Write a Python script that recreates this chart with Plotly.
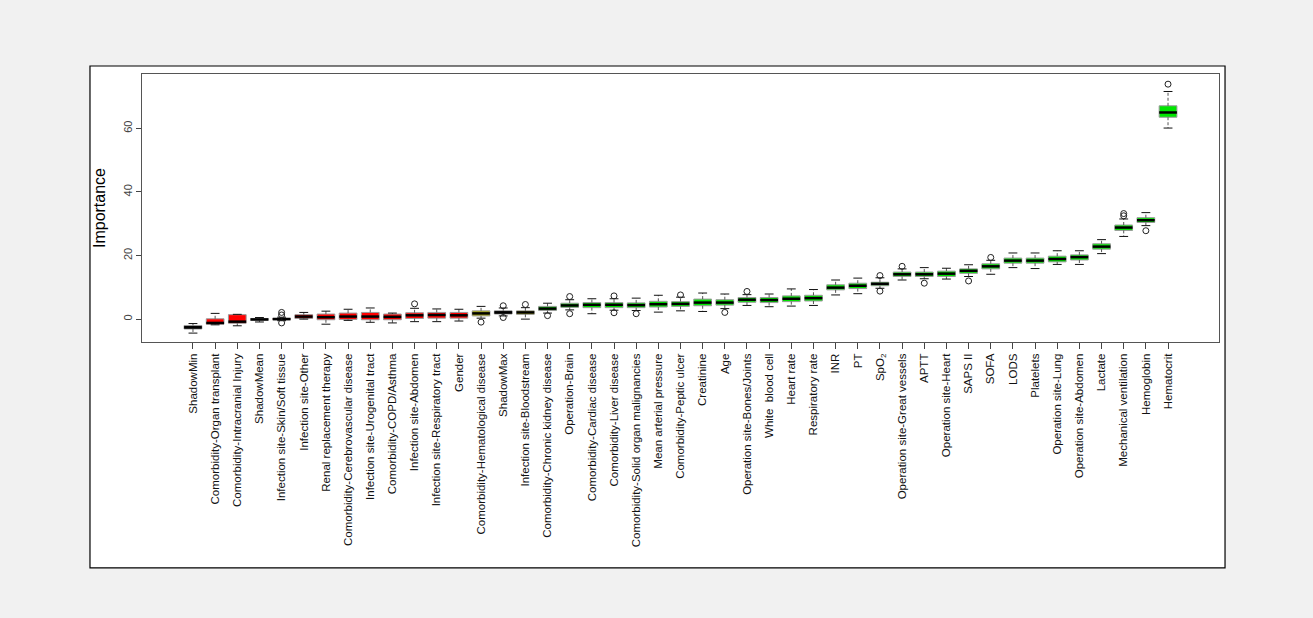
import plotly.graph_objects as go

# Feature names, ordered by median importance
labels = [
    "ShadowMin", "Comorbidity-Organ transplant", "Comorbidity-Intracranial Injury", "ShadowMean",
    "Infection site-Skin/Soft tissue", "Infection site-Other", "Renal replacement therapy",
    "Comorbidity-Cerebrovascular disease", "Infection site-Urogenital tract", "Comorbidity-COPD/Asthma",
    "Infection site-Abdomen", "Infection site-Respiratory tract", "Gender",
    "Comorbidity-Hematological disease", "ShadowMax", "Infection site-Bloodstream",
    "Comorbidity-Chronic kidney disease", "Operation-Brain", "Comorbidity-Cardiac disease",
    "Comorbidity-Liver disease", "Comorbidity-Solid organ malignancies", "Mean arterial pressure",
    "Comorbidity-Peptic ulcer", "Creatinine", "Age", "Operation site-Bones/Joints",
    "White\u00a0 blood cell", "Heart rate", "Respiratory rate", "INR", "PT", "SpO<sub>2</sub>",
    "Operation site-Great vessels", "APTT", "Operation site-Heart", "SAPS II", "SOFA", "LODS",
    "Platelets", "Operation site-Lung", "Operation site-Abdomen", "Lactate",
    "Mechanical ventilation", "Hemoglobin", "Hematocrit",
]

# Decision: S = shadow, R = rejected, T = tentative, C = confirmed
status = ["S", "R", "R", "S", "R", "R", "R", "R", "R", "R", "R", "R", "R", "T", "S", "T",
          "C", "C", "C", "C", "C", "C", "C", "C", "C", "C", "C", "C", "C", "C", "C", "C",
          "C", "C", "C", "C", "C", "C", "C", "C", "C", "C", "C", "C", "C"]

lower = [-4.4, -1.8, -2.1, -0.9, -0.5, 0.0, -1.6, -0.4, -1.0, -1.2, -0.8, -0.8, -0.6, 0.3, 1.0, 0.0,
         1.9, 2.9, 1.7, 2.8, 2.7, 2.2, 2.6, 2.4, 3.3, 4.3, 3.9, 4.1, 4.3, 7.6, 8.0, 9.7,
         12.3, 12.7, 12.6, 13.4, 14.1, 16.2, 15.9, 17.2, 17.2, 20.6, 26.0, 29.4, 60.1]
q1 = [-3.1, -1.6, -1.3, -0.4, -0.2, 0.2, -0.2, -0.1, -0.2, -0.2, 0.2, 0.3, 0.3, 1.0, 1.6, 1.5,
      2.7, 3.7, 3.6, 3.6, 3.6, 3.8, 4.0, 4.2, 4.4, 5.3, 5.2, 5.5, 5.7, 9.2, 9.6, 10.5,
      13.4, 13.4, 13.4, 14.4, 15.8, 17.6, 17.6, 18.0, 18.6, 22.0, 27.9, 30.4, 63.5]
median = [-2.6, -1.2, -0.8, -0.1, 0.0, 0.8, 0.6, 0.8, 0.8, 0.7, 1.2, 1.3, 1.2, 1.8, 2.1, 2.1,
          3.3, 4.3, 4.5, 4.5, 4.4, 4.7, 4.8, 5.2, 5.2, 6.1, 6.0, 6.4, 6.6, 9.9, 10.5, 11.1,
          14.1, 14.1, 14.3, 15.2, 16.6, 18.4, 18.4, 18.9, 19.5, 22.8, 28.8, 31.1, 65.0]
q3 = [-2.0, 0.1, 1.4, 0.2, 0.3, 1.4, 1.6, 1.9, 2.1, 1.6, 2.0, 2.1, 2.1, 2.6, 2.6, 2.6,
      4.0, 5.0, 5.2, 5.2, 5.1, 5.6, 5.5, 6.3, 6.1, 6.8, 6.8, 7.3, 7.5, 10.8, 11.3, 11.6,
      14.8, 14.8, 15.1, 15.8, 17.4, 19.2, 19.2, 19.8, 20.2, 23.7, 29.6, 31.9, 67.1]
upper = [-1.4, 1.8, 1.5, 0.5, 0.6, 2.1, 2.5, 3.1, 3.5, 1.9, 3.4, 3.2, 3.1, 4.0, 3.5, 3.6,
         5.0, 6.1, 6.4, 6.4, 6.6, 7.5, 6.9, 8.2, 7.9, 7.7, 7.9, 9.5, 9.3, 12.3, 12.9, 13.0,
         15.8, 16.2, 16.0, 17.1, 18.5, 20.8, 20.8, 21.5, 21.5, 25.0, 31.5, 33.5, 71.6]
outliers = [[], [], [], [], [2.1, 1.3, -1.2], [], [], [], [], [], [4.8], [], [], [-0.95], [4.2, 0.5], [4.6],
            [1.1], [7.1, 1.7], [], [7.3, 2.0], [1.7], [], [7.6], [], [2.1], [8.7], [], [], [], [], [], [13.7, 8.8],
            [16.6], [11.3], [], [12.0], [19.4], [], [], [], [], [], [33.2, 32.5], [27.8], [73.9]]

fill_colors = {"S": "#151515", "R": "#ff0000", "T": "#a8a800", "C": "#00e600"}

xs = list(range(1, len(labels) + 1))
box_half = 0.4
cap_half = 0.2

fig = go.Figure()

# dashed whiskers
wx, wy = [], []
for x, lo, a, b, hi in zip(xs, lower, q1, q3, upper):
    wx += [x, x, None, x, x, None]
    wy += [b, hi, None, a, lo, None]
fig.add_trace(go.Scatter(x=wx, y=wy, mode="lines",
                         line=dict(color="#555555", width=1, dash="3px,2px"), hoverinfo="skip"))

# whisker caps
cx, cy = [], []
for x, lo, hi in zip(xs, lower, upper):
    cx += [x - cap_half, x + cap_half, None, x - cap_half, x + cap_half, None]
    cy += [hi, hi, None, lo, lo, None]
fig.add_trace(go.Scatter(x=cx, y=cy, mode="lines",
                         line=dict(color="#111111", width=1), hoverinfo="skip"))

# box bodies
fig.add_trace(go.Bar(
    x=xs, y=[b - a for a, b in zip(q1, q3)], base=q1, width=2 * box_half,
    marker=dict(color=[fill_colors[s] for s in status],
                line=dict(color="#9a9a9a", width=1)),
    hoverinfo="skip"))

# medians
mx, my = [], []
for x, m in zip(xs, median):
    mx += [x - box_half, x + box_half, None]
    my += [m, m, None]
fig.add_trace(go.Scatter(x=mx, y=my, mode="lines",
                         line=dict(color="#000000", width=2.5), hoverinfo="skip"))

# outliers
ox, oy = [], []
for x, pts in zip(xs, outliers):
    for p in pts:
        ox.append(x)
        oy.append(p)
fig.add_trace(go.Scatter(x=ox, y=oy, mode="markers",
                         marker=dict(symbol="circle-open", size=6, color="#222222",
                                     line=dict(width=1)),
                         hoverinfo="skip"))

fig.update_layout(
    width=1313, height=618,
    margin=dict(l=142, r=94, t=74, b=276),
    paper_bgcolor="#f1f1f1",
    plot_bgcolor="#ffffff",
    showlegend=False,
    hovermode=False,
    font=dict(family="Liberation Sans, Arial, sans-serif", color="#000000"),
    shapes=[dict(type="rect", xref="paper", yref="paper",
                 x0=-0.0483, x1=1.0056, y0=-0.843, y1=1.0299,
                 line=dict(color="#000000", width=1.2), fillcolor="#ffffff", layer="below")],
)

fig.update_xaxes(
    range=[-1.3, 47.3], tickmode="array", tickvals=xs, ticktext=labels,
    tickangle=-90, tickfont=dict(size=11.5, color="#111111"),
    ticks="outside", ticklen=6, tickcolor="#444444",
    showgrid=False, zeroline=False,
    showline=True, linecolor="#555555", linewidth=1, mirror=True,
)
fig.update_yaxes(
    range=[-7.2, 77.1], tickvals=[0, 20, 40, 60], tickangle=-90,
    tickfont=dict(size=11, color="#444444"),
    ticks="outside", ticklen=5, tickcolor="#444444",
    showgrid=False, zeroline=False,
    showline=True, linecolor="#555555", linewidth=1, mirror=True,
    title=dict(text="Importance", font=dict(size=16, color="#000000"), standoff=11),
)

fig.write_html("out.html")
